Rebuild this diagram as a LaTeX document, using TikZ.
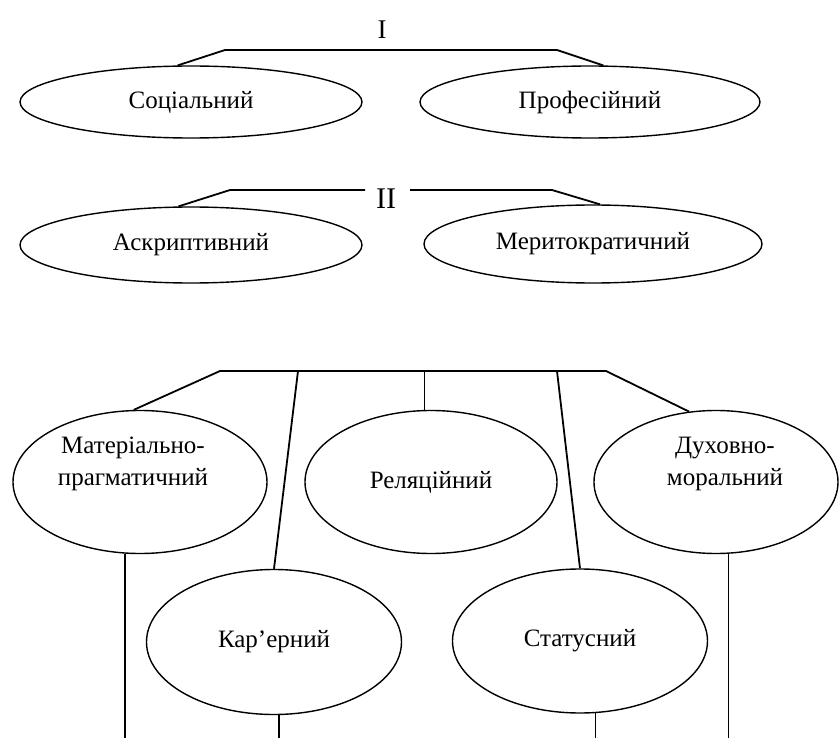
\documentclass[tikz,border=0pt]{standalone}
\usepackage{fontspec}
\setmainfont{Liberation Serif}
\usetikzlibrary{shapes.geometric,calc}
\begin{document}
\begin{tikzpicture}[x=1pt,y=-1pt,
  oval/.style={ellipse,draw,line width=1.4pt,inner sep=0pt},
  lbl/.style={font=\fontsize{25}{32}\selectfont,align=center,inner sep=0pt},
  conn/.style={line width=1.8pt},
  stem/.style={line width=1.6pt}]
\useasboundingbox (0,0) rectangle (839,738);
% level I
\node[font=\fontsize{27}{30}\selectfont,inner sep=0pt] (one) at (382,30) {I};
\node[oval,minimum width=342pt,minimum height=72pt] (soc) at (191,102) {};
\node[lbl] (socT) at (soc.center) {Соціальний};
\node[oval,minimum width=340pt,minimum height=72pt] (prof) at (590,102) {};
\node[lbl] (profT) at (prof.center) {Професійний};
\coordinate (t1) at (225,50);
\coordinate (t2) at (557,50);
\draw[conn] (soc.110) -- (t1) -- (t2) -- (prof.70);
% level II
\node[font=\fontsize{30}{34}\selectfont,inner sep=0pt] (two) at (386,199) {II};
\node[oval,minimum width=342pt,minimum height=76pt] (askr) at (191,245) {};
\node[lbl] (askrT) at (askr.center) {Аскриптивний};
\node[oval,minimum width=338pt,minimum height=78pt] (merit) at (593,244) {};
\node[lbl] (meritT) at (merit.center) {Меритократичний};
\coordinate (m1) at (230,190);
\coordinate (m2) at (365,190);
\coordinate (m3) at (410,190);
\coordinate (m4) at (552,190);
\draw[conn] (askr.108) -- (m1) -- (m2);
\draw[conn] (m3) -- (m4) -- (merit.80);
% level III
\node[oval,minimum width=254pt,minimum height=143pt] (mat) at (140,482) {};
\node[lbl] (matT) at ($(mat.center)+(-7,-18)$) {Матеріально-\\прагматичний};
\node[oval,minimum width=252pt,minimum height=143pt] (rel) at (431,482) {};
\node[lbl] (relT) at (rel.center) {Реляційний};
\node[oval,minimum width=244pt,minimum height=143pt] (duh) at (716,482) {};
\node[lbl] (duhT) at ($(duh.center)+(9,-18)$) {Духовно-\\моральний};
\node[oval,minimum width=255pt,minimum height=145pt] (kar) at (274,642) {};
\node[lbl] (karT) at (kar.center) {Кар’ерний};
\node[oval,minimum width=255pt,minimum height=144pt] (stat) at (580,641) {};
\node[lbl] (statT) at (stat.center) {Статусний};
\coordinate (b1) at (220,371);
\coordinate (b2) at (606,371);
\coordinate (bk) at (298,371);
\coordinate (bs) at (557,371);
\draw[conn] (mat.95) -- (b1) -- (b2) -- (duh.111);
\draw[conn] (bk) -- (kar.north);
\draw[conn] (bs) -- (stat.north);
\draw[stem] (rel.95) -- (rel.95 |- b1);
\coordinate (e1) at (125,738);
\coordinate (e2) at (279,738);
\coordinate (e3) at (596,738);
\coordinate (e4) at (729,738);
\draw[stem] (mat.258) -- (mat.258 |- e1);
\draw[stem] (kar.274) -- (kar.274 |- e2);
\draw[stem] (stat.282) -- (stat.282 |- e3);
\draw[stem] (duh.280) -- (duh.280 |- e4);
\end{tikzpicture}
\end{document}
